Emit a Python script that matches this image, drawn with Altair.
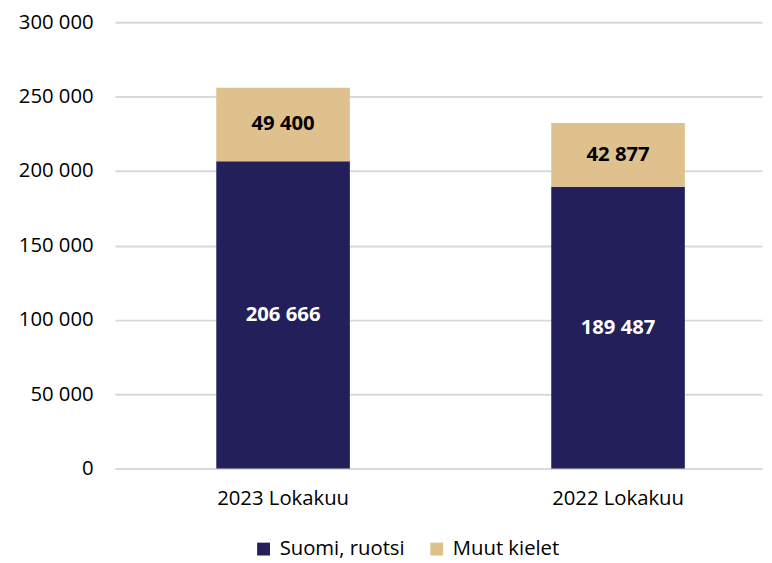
import altair as alt
import pandas as pd

categories = ["2023 Lokakuu", "2022 Lokakuu"]
series = ["Suomi, ruotsi", "Muut kielet"]
suomi_ruotsi = [206666, 189487]
muut_kielet = [49400, 42877]
label_text = {206666: "206 666", 189487: "189 487", 49400: "49 400", 42877: "42 877"}
colors = ["#221F5B", "#DFC18D"]

rows = []
for i, c in enumerate(categories):
    rows.append({"cat": c, "series": series[0], "value": suomi_ruotsi[i], "ord": 0,
                 "lbl": label_text[suomi_ruotsi[i]]})
    rows.append({"cat": c, "series": series[1], "value": muut_kielet[i], "ord": 1,
                 "lbl": label_text[muut_kielet[i]]})
df = pd.DataFrame(rows)

FONT = "Open Sans"
FS = 20.5

x = alt.X("cat:N", sort=categories, title=None,
          scale=alt.Scale(paddingInner=0.6, paddingOuter=0.266, align=0.568),
          axis=alt.Axis(labelAngle=0, ticks=False, domain=False, labelPadding=20,
                        labelFontSize=FS, labelFont=FONT, labelColor="#000000"))

base = alt.Chart(df).transform_stack(
    stack="value", groupby=["cat"], as_=["v0", "v1"], sort=[alt.SortField("ord")]
).transform_calculate(mid="(datum.v0 + datum.v1) / 2")

bars = base.mark_bar(size=135).encode(
    x=x,
    y=alt.Y("v0:Q", title=None,
            scale=alt.Scale(domain=[0, 300000], nice=False),
            axis=alt.Axis(values=[0, 50000, 100000, 150000, 200000, 250000, 300000],
                          labelExpr="replace(format(datum.value, ',d'), ',', ' ')",
                          ticks=False, domain=False, labelPadding=22,
                          labelFontSize=FS, labelFont=FONT, labelColor="#000000",
                          gridColor="#D9D9D9", gridWidth=2)),
    y2="v1:Q",
    color=alt.Color("series:N", sort=series,
                    scale=alt.Scale(domain=series, range=colors),
                    legend=alt.Legend(title=None, orient="none", legendX=140, legendY=522,
                                      direction="horizontal", symbolType="square",
                                      symbolSize=169, symbolStrokeWidth=0,
                                      labelFontSize=FS, labelFont=FONT, labelColor="#000000",
                                      labelOffset=6, columnPadding=22)),
)

text = base.mark_text(fontSize=FS, fontWeight="bold", font=FONT).encode(
    x=x,
    y=alt.Y("mid:Q"),
    text="lbl:N",
    color=alt.condition(alt.datum.ord == 0, alt.value("#FFFFFF"), alt.value("#000000")),
)

chart = (bars + text).properties(
    width=654, height=451,
    autosize=alt.AutoSizeParams(type="none"),
    padding={"left": 108, "top": 11.5, "right": 2, "bottom": 92},
).configure_view(stroke=None)

chart.save("out.html", embed_options={"renderer": "svg", "actions": False})
